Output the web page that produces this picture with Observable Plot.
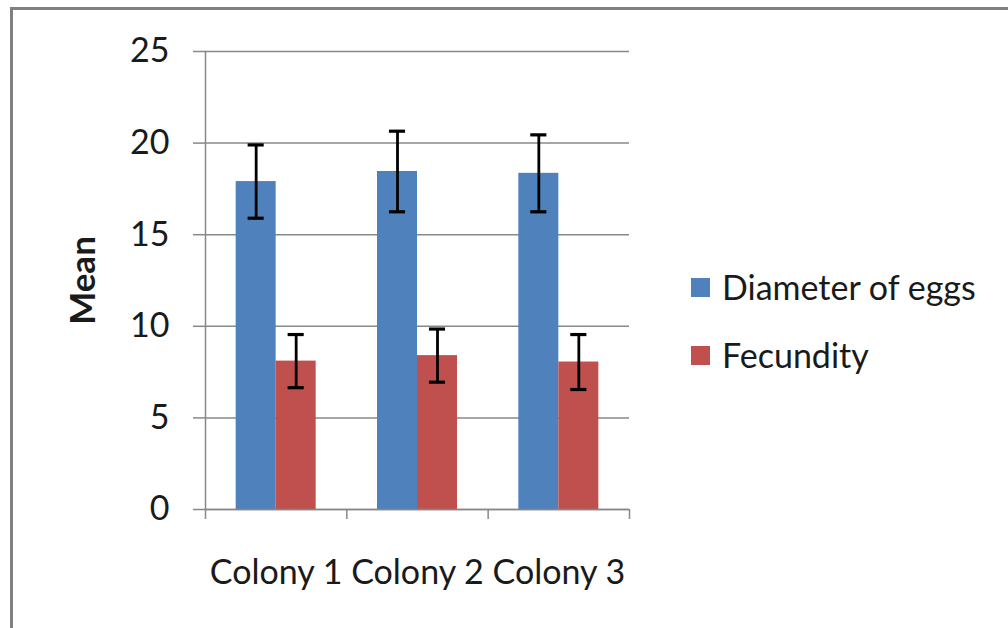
<!DOCTYPE html>
<html>
<head>
<meta charset="utf-8">
<script src="https://cdn.jsdelivr.net/npm/d3@7"></script>
<script src="https://cdn.jsdelivr.net/npm/@observablehq/plot@0.6"></script>
<style>
  html, body { margin: 0; padding: 0; background: #fff; }
  #wrap { position: relative; width: 1008px; height: 628px; overflow: hidden; font-family: Lato, sans-serif; color: #1a1a1a; }
  #border { position: absolute; left: 10px; top: 7px; width: 1100px; height: 700px; border-top: 3px solid #808080; border-left: 3px solid #808080; box-sizing: border-box; pointer-events: none; }
  #legend { position: absolute; left: 691px; top: 253px; font-size: 34px; line-height: 68px; }
  .item { display: flex; align-items: center; white-space: nowrap; }
  .sw { width: 19px; height: 19px; margin-right: 12px; }
</style>
</head>
<body>
<div id="wrap"><div id="chart"></div><div id="legend"></div><div id="border"></div></div>
<script>
const colonies = ["Colony 1", "Colony 2", "Colony 3"];
const seriesNames = ["Diameter of eggs", "Fecundity"];
const seriesColors = ["#4F81BD", "#C0504D"];
const diameter = [17.9, 18.45, 18.35];
const diameterErr = [2.0, 2.2, 2.1];
const fecundity = [8.1, 8.4, 8.05];
const fecundityErr = [1.45, 1.45, 1.5];
const yTicks = [0, 5, 10, 15, 20, 25];

const barW = 0.283;   // bar width in category units
const capW = 0.057;   // half error-cap width in category units

const rows = [];
colonies.forEach((c, i) => {
  rows.push({colony: c, pos: i + 1, side: -1, series: seriesNames[0], value: diameter[i], err: diameterErr[i]});
  rows.push({colony: c, pos: i + 1, side: 1, series: seriesNames[1], value: fecundity[i], err: fecundityErr[i]});
});
const center = d => d.pos + d.side * barW / 2;

const chart = Plot.plot({
  width: 1008,
  height: 628,
  marginLeft: 205,
  marginTop: 51,
  marginBottom: 119,
  marginRight: 379,
  style: {fontFamily: "Lato, sans-serif", fontSize: "34px", color: "#1a1a1a", background: "transparent"},
  x: {type: "linear", domain: [0.5, colonies.length + 0.5]},
  y: {domain: [0, 25]},
  color: {domain: seriesNames, range: seriesColors},
  marks: [
    Plot.gridY(yTicks, {stroke: "#888", strokeOpacity: 1, strokeWidth: 1.5}),
    Plot.axisY({ticks: yTicks, tickSize: 12, tickPadding: 24, label: null, stroke: "#888", strokeWidth: 1.5, fill: "#1a1a1a"}),
    Plot.rectY(rows, {x1: d => d.side < 0 ? d.pos - barW : d.pos, x2: d => d.side < 0 ? d.pos : d.pos + barW, y1: 0, y2: "value", fill: "series"}),
    Plot.ruleX(rows, {x: center, y1: d => d.value - d.err, y2: d => d.value + d.err, stroke: "#000", strokeWidth: 2.8}),
    Plot.ruleY(rows, {y: d => d.value + d.err, x1: d => center(d) - capW, x2: d => center(d) + capW, stroke: "#000", strokeWidth: 3.2}),
    Plot.ruleY(rows, {y: d => d.value - d.err, x1: d => center(d) - capW, x2: d => center(d) + capW, stroke: "#000", strokeWidth: 3.2}),
    Plot.frame({anchor: "left", stroke: "#888", strokeWidth: 1.5}),
    Plot.ruleY([0], {stroke: "#888", strokeWidth: 1.5}),
    Plot.axisX({ticks: d3.range(0.5, colonies.length + 1, 1), tickSize: 10, tickFormat: () => "", stroke: "#888", strokeWidth: 1.5, label: null}),
    Plot.axisX({ticks: colonies.map((c, i) => i + 1), tickSize: 0, tickPadding: 50, tickFormat: v => colonies[v - 1], label: null, fill: "#1a1a1a"}),
    Plot.text(["Mean"], {frameAnchor: "left", textAnchor: "middle", dx: -122, rotate: -90, fontWeight: "bold", fontSize: 35, fill: "#1a1a1a"})
  ]
});
document.getElementById("chart").appendChild(chart);

const legend = document.getElementById("legend");
seriesNames.forEach((s, i) => {
  const item = document.createElement("div");
  item.className = "item";
  const sw = document.createElement("span");
  sw.className = "sw";
  sw.style.background = seriesColors[i];
  item.appendChild(sw);
  item.appendChild(document.createTextNode(s));
  legend.appendChild(item);
});
</script>
</body>
</html>
